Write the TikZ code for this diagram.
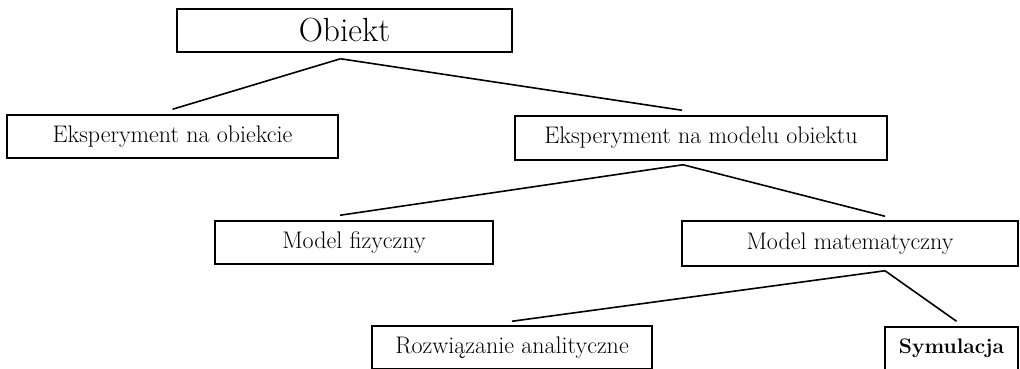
\documentclass[tikz,border=0pt]{standalone}
\usepackage{fontspec}
\tikzstyle{level}=[rectangle,draw=black,line width=1.5pt,inner sep=0pt,
font=\fontsize{24}{28}\selectfont]
\tikzstyle{root}=[rectangle,draw=black,line width=1.5pt,inner sep=0pt,
font=\fontsize{33.5}{38}\selectfont]
\tikzstyle{branch}=[line width=1.6pt]
\usetikzlibrary{positioning}

\begin{document}
\begin{tikzpicture}[x=1pt,y=-1pt]
            \useasboundingbox (0,0) rectangle (1020,368);
            \clip (0,0) rectangle (1020,368);

            % OBJECT PART

            \node[root,minimum width=335pt,minimum height=43pt] (obiekt) at (344.5,30.5) {Obiekt};

            \node[level,minimum width=331pt,minimum height=43pt] (eksobiekt) at (172.5,136.5) {Eksperyment na obiekcie};
            \node[level,minimum width=372pt,minimum height=44pt] (eksmodel) at (701,138) {Eksperyment na modelu obiektu};

            \path[branch] ([xshift=-4pt,yshift=-6pt]obiekt.south) edge ([yshift=5pt]eksobiekt.north);
            \path[branch] ([xshift=-4pt,yshift=-6pt]obiekt.south) edge ([xshift=-19pt,yshift=5pt]eksmodel.north);

            % MODEL PART

            \node[level,minimum width=278pt,minimum height=43pt] (fizyczny) at (354,242.5) {Model fizyczny};
            \node[level,minimum width=336pt,minimum height=45pt] (matem) at (850,243.5) {Model matematyczny};

            \path[branch] ([xshift=-18pt,yshift=-4pt]eksmodel.south) edge ([xshift=-14pt,yshift=5pt]fizyczny.north);
            \path[branch] ([xshift=-18pt,yshift=-4pt]eksmodel.south) edge ([xshift=35pt,yshift=4pt]matem.north);

            % SOLUTION PART

            \node[level,minimum width=280pt,minimum height=43pt] (rozw) at (512,347.5) {Rozwiązanie analityczne};
            \node[level,minimum width=133pt,minimum height=43pt] (symul) at (951.5,348.5) {\fontsize{21}{25}\selectfont\bfseries Symulacja};

            \path[branch] ([xshift=35pt,yshift=-4pt]matem.south) edge ([yshift=4pt]rozw.north);
            \path[branch] ([xshift=35pt,yshift=-4pt]matem.south) edge ([xshift=5pt,yshift=5pt]symul.north);

        \end{tikzpicture}
\end{document}
